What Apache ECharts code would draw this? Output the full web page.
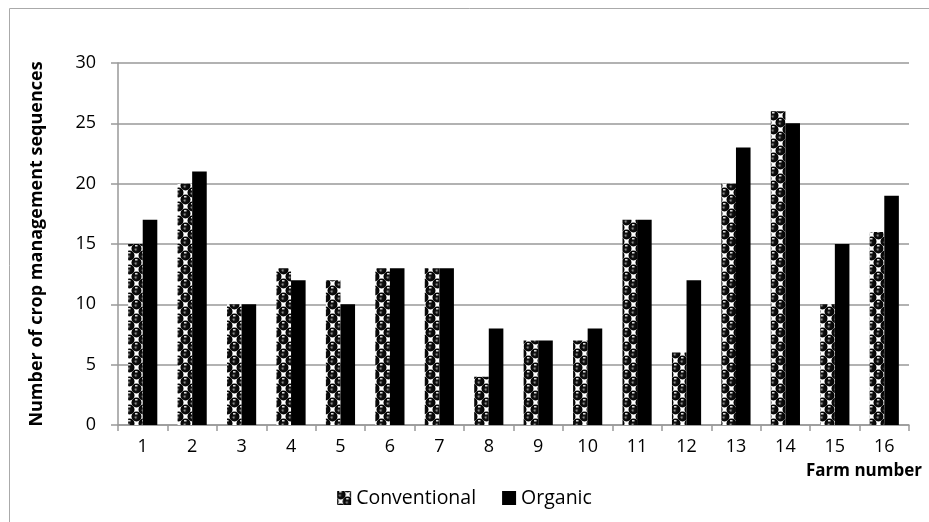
<!DOCTYPE html>
<html>
<head>
<meta charset="utf-8">
<script src="https://cdn.jsdelivr.net/npm/echarts@6/dist/echarts.min.js"></script>
<style>
html,body{margin:0;padding:0;background:#fff;}
#chart{width:929px;height:522px;}
</style>
</head>
<body>
<div id="chart"></div>
<script>
const categories = ['1','2','3','4','5','6','7','8','9','10','11','12','13','14','15','16'];
const conventional = [15,20,10,13,12,13,13,4,7,7,17,6,20,26,10,16];
const organic = [17,21,10,12,10,13,13,8,7,8,17,12,23,25,15,19];
const yTicks = {min:0, max:30, interval:5};

function makePattern(){
  const c = document.createElement('canvas');
  c.width = 14; c.height = 14;
  const g = c.getContext('2d');
  g.fillStyle = '#ffffff';
  g.fillRect(0,0,14,14);
  function ball(x,y){
    const grd = g.createRadialGradient(x-1,y+1.2,0.3,x,y,5);
    grd.addColorStop(0,'#888');
    grd.addColorStop(0.3,'#111');
    grd.addColorStop(1,'#000');
    g.fillStyle = grd;
    g.beginPath(); g.arc(x,y,5,0,Math.PI*2); g.fill();
    g.fillStyle = '#ddd';
    g.fillRect(x-1.5,y-3.5,2.5,1.5);
  }
  [[3.5,3.5],[10.5,10.5],[17.5,3.5],[-3.5,10.5],[3.5,17.5],[10.5,-3.5],[17.5,17.5],[-3.5,-3.5]].forEach(p=>ball(p[0],p[1]));
  return c;
}
const pat = makePattern();

const chart = echarts.init(document.getElementById('chart'));
chart.setOption({
  backgroundColor:'#fff',
  animation:false,
  grid:{left:118, right:20, top:63, bottom:97},
  legend:{
    data:['Conventional','Organic'],
    left:'center', top:483,
    itemWidth:14, itemHeight:14, itemGap:26,
    icon:'rect',
    textStyle:{fontFamily:'Open Sans', fontSize:19.5, color:'#000'}
  },
  xAxis:{
    type:'category', data:categories,
    axisLine:{lineStyle:{color:'#999', width:1.5}},
    axisTick:{show:true, length:6, lineStyle:{color:'#999', width:1.5}},
    axisLabel:{fontFamily:'Open Sans', fontSize:18, color:'#000', margin:13}
  },
  yAxis:{
    type:'value', min:yTicks.min, max:yTicks.max, interval:yTicks.interval,
    name:'Number of crop management sequences',
    nameLocation:'middle', nameGap:72, nameRotate:90,
    nameTextStyle:{fontFamily:'Open Sans', fontSize:18, fontWeight:'bold', color:'#000'},
    axisLine:{show:true, lineStyle:{color:'#999', width:1.5}},
    axisTick:{show:true, length:7, lineStyle:{color:'#999', width:1.5}},
    axisLabel:{fontFamily:'Open Sans', fontSize:18, color:'#000', margin:22},
    splitLine:{lineStyle:{color:'#999', width:1.5}}
  },
  graphic:[
    {type:'rect', shape:{x:9.5, y:8.5, width:940, height:540}, style:{fill:null, stroke:'#aaa', lineWidth:1}, silent:true, z:-1},
    {type:'text', right:7, top:463, style:{text:'Farm number', font:'bold 17px "Open Sans"', fill:'#000'}}
  ],
  series:[
    {name:'Conventional', type:'bar', data:conventional, barGap:'0%', barCategoryGap:'41%',
     itemStyle:{color:{image:pat, repeat:'repeat'}}},
    {name:'Organic', type:'bar', data:organic, itemStyle:{color:'#000'}}
  ]
});
</script>
</body>
</html>
